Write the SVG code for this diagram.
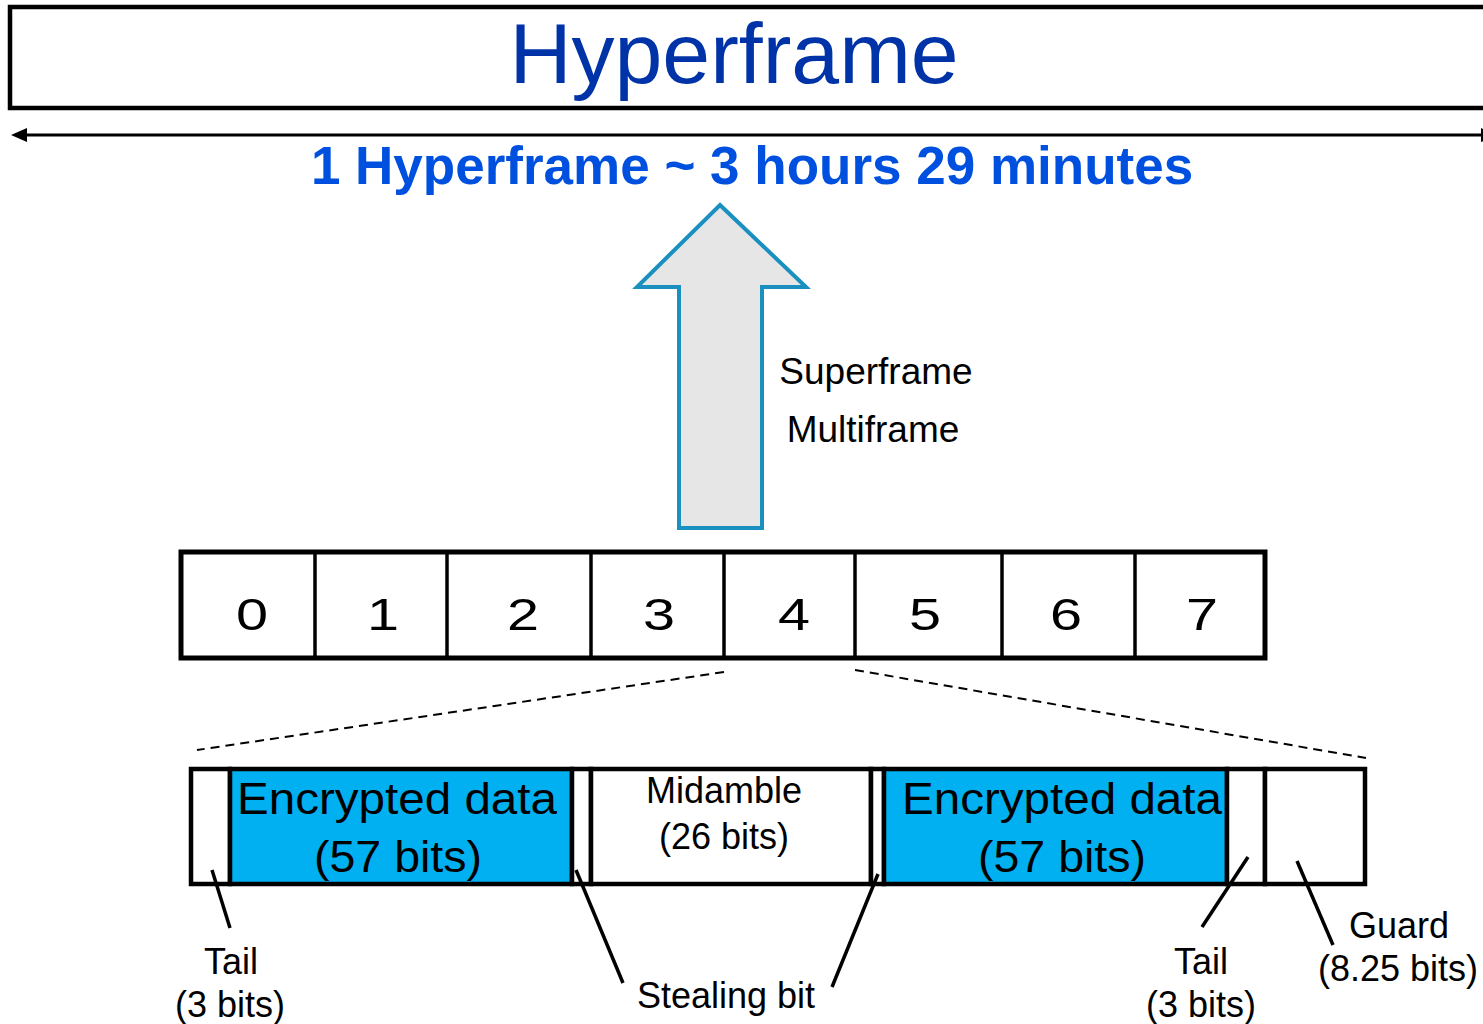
<svg xmlns="http://www.w3.org/2000/svg" width="1483" height="1024" viewBox="0 0 1483 1024">
  <style>
    .box { fill: #ffffff; stroke: #000000; stroke-width: 4.5; }
    .enc { fill: #00b0f0; stroke: #000000; stroke-width: 4.5; }
    .div { stroke: #000000; stroke-width: 3.5; }
    .lead { stroke: #000000; stroke-width: 3.5; fill: none; }
    .dash { stroke: #000000; stroke-width: 2; stroke-dasharray: 9 6; fill: none; }
    .t { font-family: "Liberation Sans", Arial, sans-serif; fill: #000000; text-anchor: middle; }
    .num { font-size: 45px; }
    .lbl { font-size: 36px; }
    .big { font-size: 44px; }
  </style>

  <rect width="1483" height="1024" fill="#ffffff"/>

  <!-- hyperframe bar -->
  <g id="hyperframe">
    <rect class="box" x="10" y="7" width="1500" height="101"/>
    <text class="t" x="734" y="83" font-size="86" fill="#0033a8" style="fill:#0033a8">Hyperframe</text>
  </g>

  <!-- duration caption -->
  <g id="duration">
    <text class="t" x="752" y="184" font-size="53" font-weight="bold" style="fill:#0050e0">1 Hyperframe ~ 3 hours 29 minutes</text>
  </g>

  <!-- up arrow from TDMA frame -->
  <g id="up-arrow">
    <polygon points="720,205 806,287 762,287 762,528 679,528 679,287 637,287" fill="#e6e6e6" stroke="#1a90c0" stroke-width="4"/>
  </g>
  <g id="arrow-labels">
    <text class="t" x="876" y="384" font-size="37" style="text-anchor:middle">Superframe</text>
    <text class="t" x="873" y="442" font-size="37" style="text-anchor:middle">Multiframe</text>
  </g>

  <!-- TDMA frame with 8 timeslots -->
  <g id="tdma-frame">
    <rect class="box" x="181" y="552" width="1084" height="106" style="stroke-width:5"/>
    <line class="div" x1="315" y1="552" x2="315" y2="658"/>
    <line class="div" x1="447" y1="552" x2="447" y2="658"/>
    <line class="div" x1="591" y1="552" x2="591" y2="658"/>
    <line class="div" x1="724" y1="552" x2="724" y2="658"/>
    <line class="div" x1="855" y1="552" x2="855" y2="658"/>
    <line class="div" x1="1002" y1="552" x2="1002" y2="658"/>
    <line class="div" x1="1135" y1="552" x2="1135" y2="658"/>
    <g class="t num">
      <text transform="translate(252 630) scale(1.28 1)">0</text>
      <text transform="translate(383 630) scale(1.28 1)">1</text>
      <text transform="translate(523 630) scale(1.28 1)">2</text>
      <text transform="translate(659 630) scale(1.28 1)">3</text>
      <text transform="translate(794 630) scale(1.28 1)">4</text>
      <text transform="translate(925 630) scale(1.28 1)">5</text>
      <text transform="translate(1066 630) scale(1.28 1)">6</text>
      <text transform="translate(1202 630) scale(1.28 1)">7</text>
    </g>
  </g>

  <!-- normal burst -->
  <g id="tail-1"><rect class="box" x="191" y="769" width="39" height="115"/></g>
  <g id="encrypted-1">
    <rect class="enc" x="230" y="769" width="342" height="115"/>
    <text class="t big" x="397" y="814" textLength="320" lengthAdjust="spacingAndGlyphs">Encrypted data</text>
    <text class="t big" x="398" y="872" textLength="168" lengthAdjust="spacingAndGlyphs">(57 bits)</text>
  </g>
  <g id="stealing-1"><rect class="box" x="572" y="769" width="19" height="115"/></g>
  <g id="midamble">
    <rect class="box" x="591" y="769" width="280" height="115"/>
    <text class="t lbl" x="724" y="803">Midamble</text>
    <text class="t lbl" x="724" y="849">(26 bits)</text>
  </g>
  <g id="stealing-2"><rect class="box" x="871" y="769" width="13" height="115"/></g>
  <g id="encrypted-2">
    <rect class="enc" x="884" y="769" width="343" height="115"/>
    <text class="t big" x="1062" y="814" textLength="320" lengthAdjust="spacingAndGlyphs">Encrypted data</text>
    <text class="t big" x="1062" y="872" textLength="168" lengthAdjust="spacingAndGlyphs">(57 bits)</text>
  </g>
  <g id="tail-2"><rect class="box" x="1227" y="769" width="38" height="115"/></g>
  <g id="guard"><rect class="box" x="1265" y="769" width="100" height="115"/></g>

  <!-- field labels -->
  <g id="label-tail-1">
    <text class="t lbl" x="231" y="974">Tail</text>
    <text class="t lbl" x="230" y="1017">(3 bits)</text>
  </g>
  <g id="label-stealing">
    <text class="t lbl" x="726" y="1008">Stealing bit</text>
  </g>
  <g id="label-tail-2">
    <text class="t lbl" x="1201" y="974">Tail</text>
    <text class="t lbl" x="1201" y="1017">(3 bits)</text>
  </g>
  <g id="label-guard">
    <text class="t lbl" x="1399" y="938">Guard</text>
    <text class="t lbl" x="1398" y="981">(8.25 bits)</text>
  </g>

  <!-- connectors -->
  <g id="connectors">
    <line x1="24" y1="135" x2="1483" y2="135" stroke="#000000" stroke-width="3"/>
    <polygon points="11,135 27,128 27,142" fill="#000000"/>
    <polygon points="1481,128 1497,135 1481,142" fill="#000000"/>
    <line class="dash" x1="724" y1="672" x2="197" y2="750"/>
    <line class="dash" x1="855" y1="670" x2="1366" y2="758"/>
    <line class="lead" x1="212" y1="870" x2="230" y2="928"/>
    <line class="lead" x1="576" y1="870" x2="623" y2="983"/>
    <line class="lead" x1="878" y1="874" x2="832" y2="987"/>
    <line class="lead" x1="1248" y1="857" x2="1202" y2="927"/>
    <line class="lead" x1="1297" y1="861" x2="1333" y2="945"/>
  </g>
</svg>
